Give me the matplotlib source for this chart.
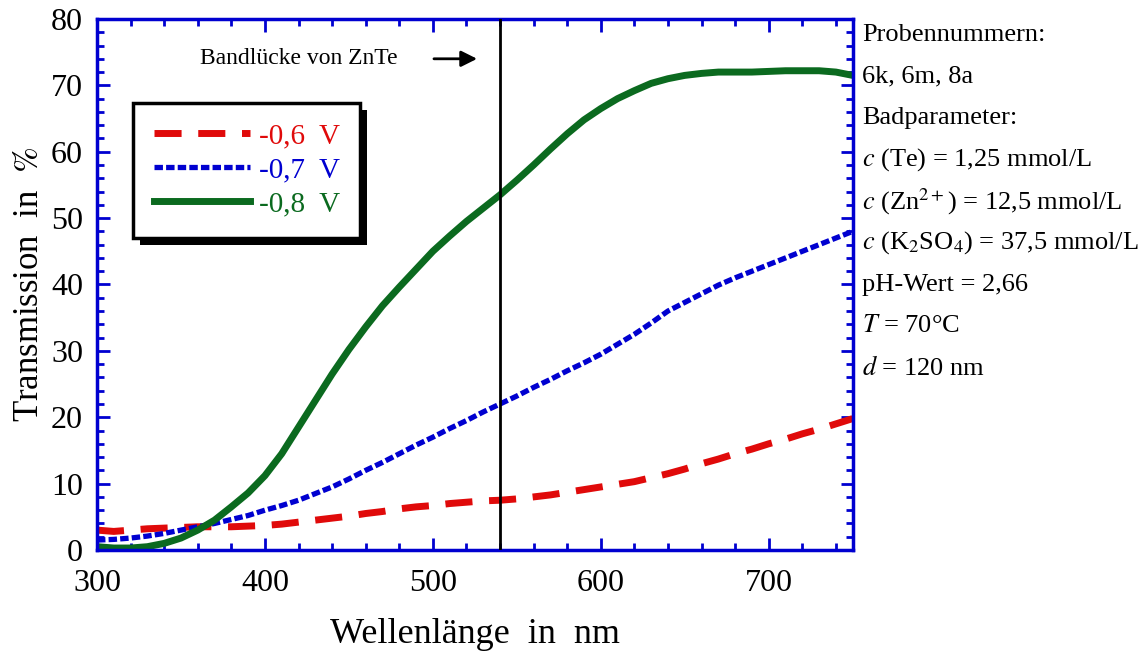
import numpy as np
import matplotlib.pyplot as plt
from matplotlib.patches import Rectangle
from matplotlib.ticker import MultipleLocator

plt.rcParams['font.family'] = ['Liberation Serif', 'DejaVu Serif']
plt.rcParams['mathtext.fontset'] = 'stix'

# wavelength grid (nm) and transmission (%)
wl = [300, 310, 320, 330, 340, 350, 360, 370, 380, 390, 400, 410, 420, 430, 440,
      450, 460, 470, 480, 490, 500, 510, 520, 530, 540, 550, 560, 570, 580, 590,
      600, 610, 620, 630, 640, 650, 660, 670, 680, 690, 700, 710, 720, 730, 740, 750]
t_06 = [3.0, 2.8, 3.0, 3.2, 3.3, 3.4, 3.5, 3.5, 3.5, 3.6, 3.7, 3.9, 4.2, 4.5, 4.8,
        5.1, 5.5, 5.8, 6.2, 6.5, 6.7, 7.0, 7.2, 7.4, 7.5, 7.7, 8.0, 8.3, 8.7, 9.1,
        9.5, 9.9, 10.3, 10.9, 11.5, 12.2, 13.0, 13.7, 14.5, 15.2, 16.0, 16.7, 17.5, 18.2, 19.0, 19.8]
t_07 = [1.5, 1.6, 1.8, 2.1, 2.5, 3.0, 3.5, 4.0, 4.6, 5.2, 6.0, 6.7, 7.5, 8.5, 9.5,
        10.7, 12.0, 13.2, 14.5, 15.8, 17.0, 18.3, 19.5, 20.8, 22.0, 23.2, 24.5, 25.7, 27.0, 28.2,
        29.5, 31.0, 32.5, 34.2, 36.0, 37.3, 38.6, 39.9, 41.0, 42.0, 43.0, 44.0, 45.0, 46.0, 47.0, 48.0]
t_08 = [0.5, 0.3, 0.3, 0.5, 1.0, 1.8, 3.0, 4.5, 6.5, 8.6, 11.2, 14.5, 18.5, 22.5, 26.5,
        30.2, 33.6, 36.8, 39.6, 42.3, 45.0, 47.3, 49.5, 51.5, 53.5, 55.7, 58.0, 60.4, 62.7, 64.8,
        66.5, 68.0, 69.2, 70.3, 71.0, 71.5, 71.8, 72.0, 72.0, 72.0, 72.1, 72.2, 72.2, 72.2, 72.0, 71.5]

labels = ['-0,6  V', '-0,7  V', '-0,8  V']
colors = ['#e00a0a', '#0000d0', '#0b6a1f']
band_gap = 540

info_lines = ['Probennummern:', '6k, 6m, 8a', 'Badparameter:',
              r'$c$ (Te) = 1,25 mmol/L',
              r'$c$ (Zn$^{2+}$) = 12,5 mmol/L',
              r'$c$ (K$_2$SO$_4$) = 37,5 mmol/L',
              'pH-Wert = 2,66',
              r'$T$ = 70°C',
              r'$d$ = 120 nm']

fig = plt.figure(figsize=(11.45, 6.54), dpi=100)
ax = fig.add_axes([0.0847, 0.159, 0.660, 0.812])

l1, = ax.plot(wl, t_06, color=colors[0], lw=5, dashes=(3.9, 2.4), label=labels[0])
l2, = ax.plot(wl, t_07, color=colors[1], lw=3.8, dashes=(1.6, 0.6), label=labels[1])
l3, = ax.plot(wl, t_08, color=colors[2], lw=5, label=labels[2])
ax.axvline(band_gap, color='black', lw=2, zorder=5)

ax.set_xlim(300, 750)
ax.set_ylim(0, 80)
ax.xaxis.set_major_locator(MultipleLocator(100))
ax.xaxis.set_minor_locator(MultipleLocator(20))
ax.yaxis.set_major_locator(MultipleLocator(10))
ax.yaxis.set_minor_locator(MultipleLocator(2))
blue = '#0000d0'
for s in ax.spines.values():
    s.set_color(blue)
    s.set_linewidth(2.5)
ax.tick_params(which='both', direction='in', top=True, right=True, color=blue,
               width=2, labelsize=23)
ax.tick_params(axis='x', pad=14)
ax.tick_params(axis='y', pad=10)
ax.tick_params(which='major', length=9)
ax.tick_params(which='minor', length=5)

ax.set_xlabel('Wellenlänge  in  nm', fontsize=26, labelpad=14)
ax.set_ylabel(r'Transmission  in  $\%$', fontsize=25, labelpad=4)

ax.annotate('', xy=(528, 74), xytext=(499, 74),
            arrowprops=dict(arrowstyle='-|>', color='black', lw=2, mutation_scale=24))
ax.text(420, 74, 'Bandlücke von ZnTe', fontsize=17, ha='center', va='center')

leg = ax.legend(handles=[l1, l2, l3], loc='upper left', bbox_to_anchor=(0.048, 0.842),
                fontsize=21, handlelength=3.3, handletextpad=0.3, labelspacing=0.25,
                borderpad=0.7, borderaxespad=0, fancybox=False, framealpha=1,
                edgecolor='black')
leg.get_frame().set_linewidth(2.5)
for txt, c in zip(leg.get_texts(), colors):
    txt.set_color(c)

# heavy black drop shadow behind the legend
fig.canvas.draw()
bb = leg.get_window_extent().transformed(fig.transFigure.inverted())
off_x, off_y = 7 / 1145, 7 / 654
fig.patches.append(Rectangle((bb.x0 + off_x, bb.y0 - off_y), bb.width, bb.height,
                             transform=fig.transFigure, facecolor='black',
                             edgecolor='none', zorder=0.5))
ax.set_zorder(1)
ax.patch.set_alpha(0)
leg.set_zorder(10)

y0 = 1 - 35 / 654
for i, line in enumerate(info_lines):
    fig.text(862 / 1145, y0 - i * 41.6 / 654, line, fontsize=19, ha='left', va='center')

fig.savefig('out.png', dpi=100)
